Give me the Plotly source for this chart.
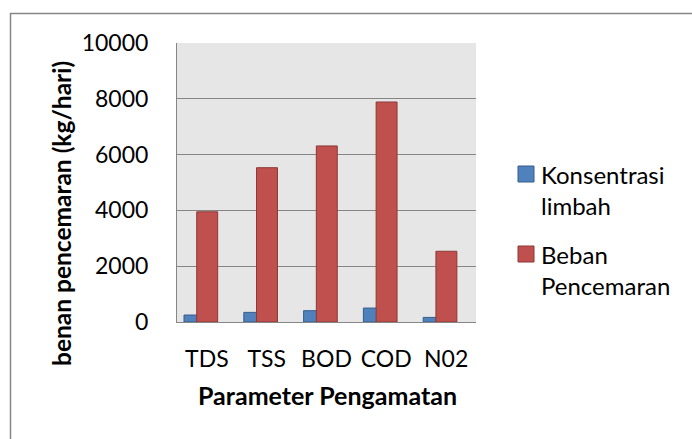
import plotly.graph_objects as go

categories = ["TDS", "TSS", "BOD", "COD", "N02"]
series_names = ["Konsentrasi<br>limbah", "Beban<br>Pencemaran"]
konsentrasi_limbah = [250, 345, 405, 500, 165]
beban_pencemaran = [3950, 5530, 6310, 7885, 2535]
y_ticks = [0, 2000, 4000, 6000, 8000, 10000]
x_title = "Parameter Pengamatan"
y_title = "benan pencemaran (kg/hari)"

W, H = 692, 439
L, R, T, B = 177, 476, 43, 322
FONT = "Lato"
BLUE, BLUE_EDGE = "#4F81BD", "#385D8A"
RED, RED_EDGE = "#C0504D", "#8C3836"
GRID = "#868686"


def px_x(x):
    return (x - L) / (R - L)


def px_y(y):
    return (B - y) / (B - T)


fig = go.Figure()
fig.add_trace(go.Bar(
    x=categories, y=konsentrasi_limbah, name=series_names[0],
    marker=dict(color=BLUE, line=dict(color=BLUE_EDGE, width=1)),
    width=0.35, offset=-0.383, showlegend=False,
))
fig.add_trace(go.Bar(
    x=categories, y=beban_pencemaran, name=series_names[1],
    marker=dict(color=RED, line=dict(color=RED_EDGE, width=1)),
    width=0.35, offset=-0.17, showlegend=False,
))

annotations = [
    dict(text="<b>%s</b>" % x_title, xref="paper", yref="paper",
         x=px_x(327), y=px_y(395), xanchor="center", yanchor="middle",
         showarrow=False, font=dict(size=25)),
    dict(text="<b>%s</b>" % y_title, xref="paper", yref="paper",
         x=px_x(61), y=px_y(214), xanchor="center", yanchor="middle",
         textangle=-90, showarrow=False, font=dict(size=24.5)),
]
shapes = [
    dict(type="line", xref="paper", yref="paper", x0=px_x(10), x1=px_x(720),
         y0=px_y(13.5), y1=px_y(13.5), line=dict(color=GRID, width=1.5)),
    dict(type="line", xref="paper", yref="paper", x0=px_x(10.5), x1=px_x(10.5),
         y0=px_y(13), y1=px_y(460), line=dict(color=GRID, width=1.5)),
]

# manual legend
legend_rows = [(series_names[0], BLUE, BLUE_EDGE, 174), (series_names[1], RED, RED_EDGE, 254)]
for name, col, edge, yc in legend_rows:
    shapes.append(dict(type="rect", xref="paper", yref="paper",
                       x0=px_x(518), x1=px_x(534), y0=px_y(yc - 8), y1=px_y(yc + 8),
                       fillcolor=col, line=dict(color=edge, width=1)))
    annotations.append(dict(text=name, xref="paper", yref="paper",
                            x=px_x(539), y=px_y(yc - 16), xanchor="left", yanchor="top",
                            align="left", showarrow=False, font=dict(size=24)))

fig.update_layout(
    width=W, height=H,
    margin=dict(l=L, r=W - R, t=T, b=H - B, autoexpand=False),
    paper_bgcolor="white", plot_bgcolor="#E6E6E6",
    barmode="overlay",
    font=dict(family=FONT, size=23, color="#000000"),
    showlegend=False,
    xaxis=dict(
        showgrid=False, showline=True, linecolor=GRID, linewidth=1,
        ticks="", ticklabelstandoff=16, range=[-0.5, 4.5],
    ),
    yaxis=dict(
        range=[0, 10000], tickvals=y_ticks, ticktext=[str(v) for v in y_ticks],
        showgrid=True, gridcolor=GRID, gridwidth=1,
        showline=True, linecolor=GRID, linewidth=1,
        ticks="", ticklabelstandoff=23, zeroline=False,
    ),
    annotations=annotations,
    shapes=shapes,
)

fig.write_html("out.html", config={"displayModeBar": False},
               post_script="document.body.style.margin='0';")
